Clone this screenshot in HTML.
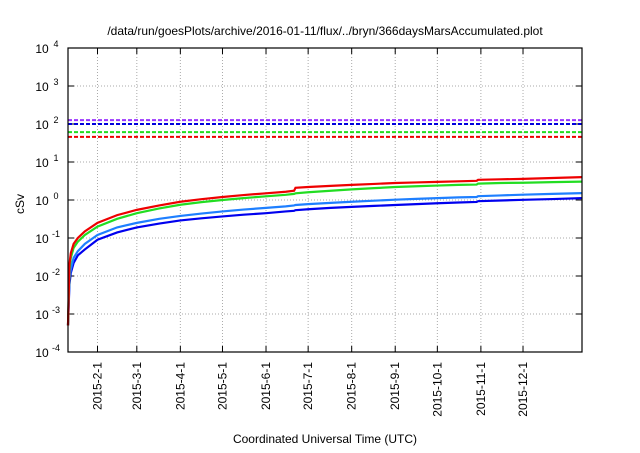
<!DOCTYPE html>
<html><head><meta charset="utf-8"><style>
body{margin:0;background:#fff;font-family:"Liberation Sans",sans-serif}
svg text{font-family:"Liberation Sans",sans-serif;fill:#000}
</style></head><body>
<svg id="c" width="640" height="448" xmlns="http://www.w3.org/2000/svg"></svg>
<script>
const days=[0,1,2,4,7,12,21,35,49,65,80,95,110,125,141,155,161,162,171,187,202,218,233,248,263,278,291,292,308,324,345,366];
const red=[0.0005,0.02,0.04,0.07,0.1,0.15,0.25,0.4,0.55,0.72,0.9,1.05,1.2,1.35,1.5,1.65,1.75,2.1,2.2,2.35,2.5,2.65,2.8,2.9,3.0,3.1,3.2,3.4,3.5,3.6,3.8,4.0];
const green=[0.0005,0.015,0.03,0.055,0.08,0.12,0.2,0.32,0.45,0.6,0.75,0.88,1.0,1.12,1.25,1.37,1.45,1.5,1.6,1.75,1.9,2.05,2.2,2.3,2.4,2.5,2.55,2.7,2.8,2.85,2.95,3.05];
const lblue=[0.0005,0.008,0.015,0.03,0.045,0.07,0.12,0.19,0.25,0.32,0.38,0.44,0.5,0.56,0.62,0.68,0.72,0.74,0.78,0.84,0.9,0.96,1.02,1.07,1.12,1.17,1.2,1.26,1.32,1.38,1.45,1.52];
const dblue=[0.0005,0.006,0.012,0.022,0.035,0.05,0.09,0.14,0.19,0.24,0.29,0.33,0.37,0.41,0.45,0.5,0.52,0.54,0.57,0.62,0.66,0.7,0.74,0.78,0.82,0.86,0.89,0.93,0.97,1.01,1.06,1.12];
const limits=[126,100,61,46];
const limitColors=["#9933ff","#0000dd","#22dd22","#ee0000"];
const yTickExp=[-4,-3,-2,-1,0,1,2,3,4];
const xTickLabels=["2015-2-1","2015-3-1","2015-4-1","2015-5-1","2015-6-1","2015-7-1","2015-8-1","2015-9-1","2015-10-1","2015-11-1","2015-12-1"];
const xTickDays=[21,49,80,110,141,171,202,233,263,294,324];

const L=68,R=582,T=48,B=352,S="http://www.w3.org/2000/svg",svg=document.getElementById('c');
const X=d=>L+(R-L)*d/366;
const Y=v=>B-(B-T)*(Math.log10(v)+4)/8;
function mk(t,a,p){const e=document.createElementNS(S,t);for(const k in a)e.setAttribute(k,a[k]);(p||svg).appendChild(e);return e;}
mk('rect',{x:0,y:0,width:640,height:448,fill:'#fff'});
const tt=mk('text',{x:325,y:35,'font-size':12,'text-anchor':'middle'});tt.textContent="/data/run/goesPlots/archive/2016-01-11/flux/../bryn/366daysMarsAccumulated.plot";

yTickExp.forEach(e=>{const y=Y(Math.pow(10,e));
 if(e>-4&&e<4){const g=mk('line',{x1:L,x2:R,y1:y,y2:y,stroke:'#aaa','stroke-dasharray':'1,2','stroke-width':1});}
 mk('line',{x1:L,x2:L+6,y1:y,y2:y,stroke:'#000'});mk('line',{x1:R-6,x2:R,y1:y,y2:y,stroke:'#000'});
 const t=mk('text',{x:L-26,y:y+5,'font-size':12,'text-anchor':'middle'});t.textContent="10";
 
 const s=mk('text',{x:L-12,y:y-1,'font-size':9,'text-anchor':'middle'});s.textContent=String(e).replace('-','-');
 
});
xTickDays.forEach((d,i)=>{const x=X(d);
 const g=mk('line',{x1:x,x2:x,y1:T,y2:B,stroke:'#aaa','stroke-dasharray':'1,2'});
 mk('line',{x1:x,x2:x,y1:B-6,y2:B,stroke:'#000'});mk('line',{x1:x,x2:x,y1:T,y2:T+6,stroke:'#000'});
 const t=mk('text',{x:x+4,y:362,'font-size':12,'text-anchor':'end',transform:`rotate(-90 ${x+4} 362)`});t.textContent=xTickLabels[i];
 
});
limits.forEach((v,i)=>{const l=mk('line',{x1:L,x2:R,y1:Y(v),y2:Y(v),stroke:limitColors[i],'stroke-width':2,'stroke-dasharray':'4,2'});
 });
[[dblue,'#0000ee'],[lblue,'#1e7fff'],[green,'#22dd22'],[red,'#ee0000']].forEach(([s,c])=>{
 const p=mk('polyline',{points:days.map((d,i)=>X(d)+','+Y(s[i])).join(' '),fill:'none',stroke:c,'stroke-width':2.2});
 });
const fr=mk('rect',{x:L,y:T,width:R-L,height:B-T,fill:'none',stroke:'#000','stroke-width':1.2});

const yl=mk('text',{x:24,y:204,'font-size':12,'text-anchor':'middle',transform:'rotate(-90 24 204)'});yl.textContent="cSv";

const xl=mk('text',{x:325,y:443,'font-size':12,'text-anchor':'middle'});xl.textContent="Coordinated Universal Time (UTC)";

</script>
</body></html>
